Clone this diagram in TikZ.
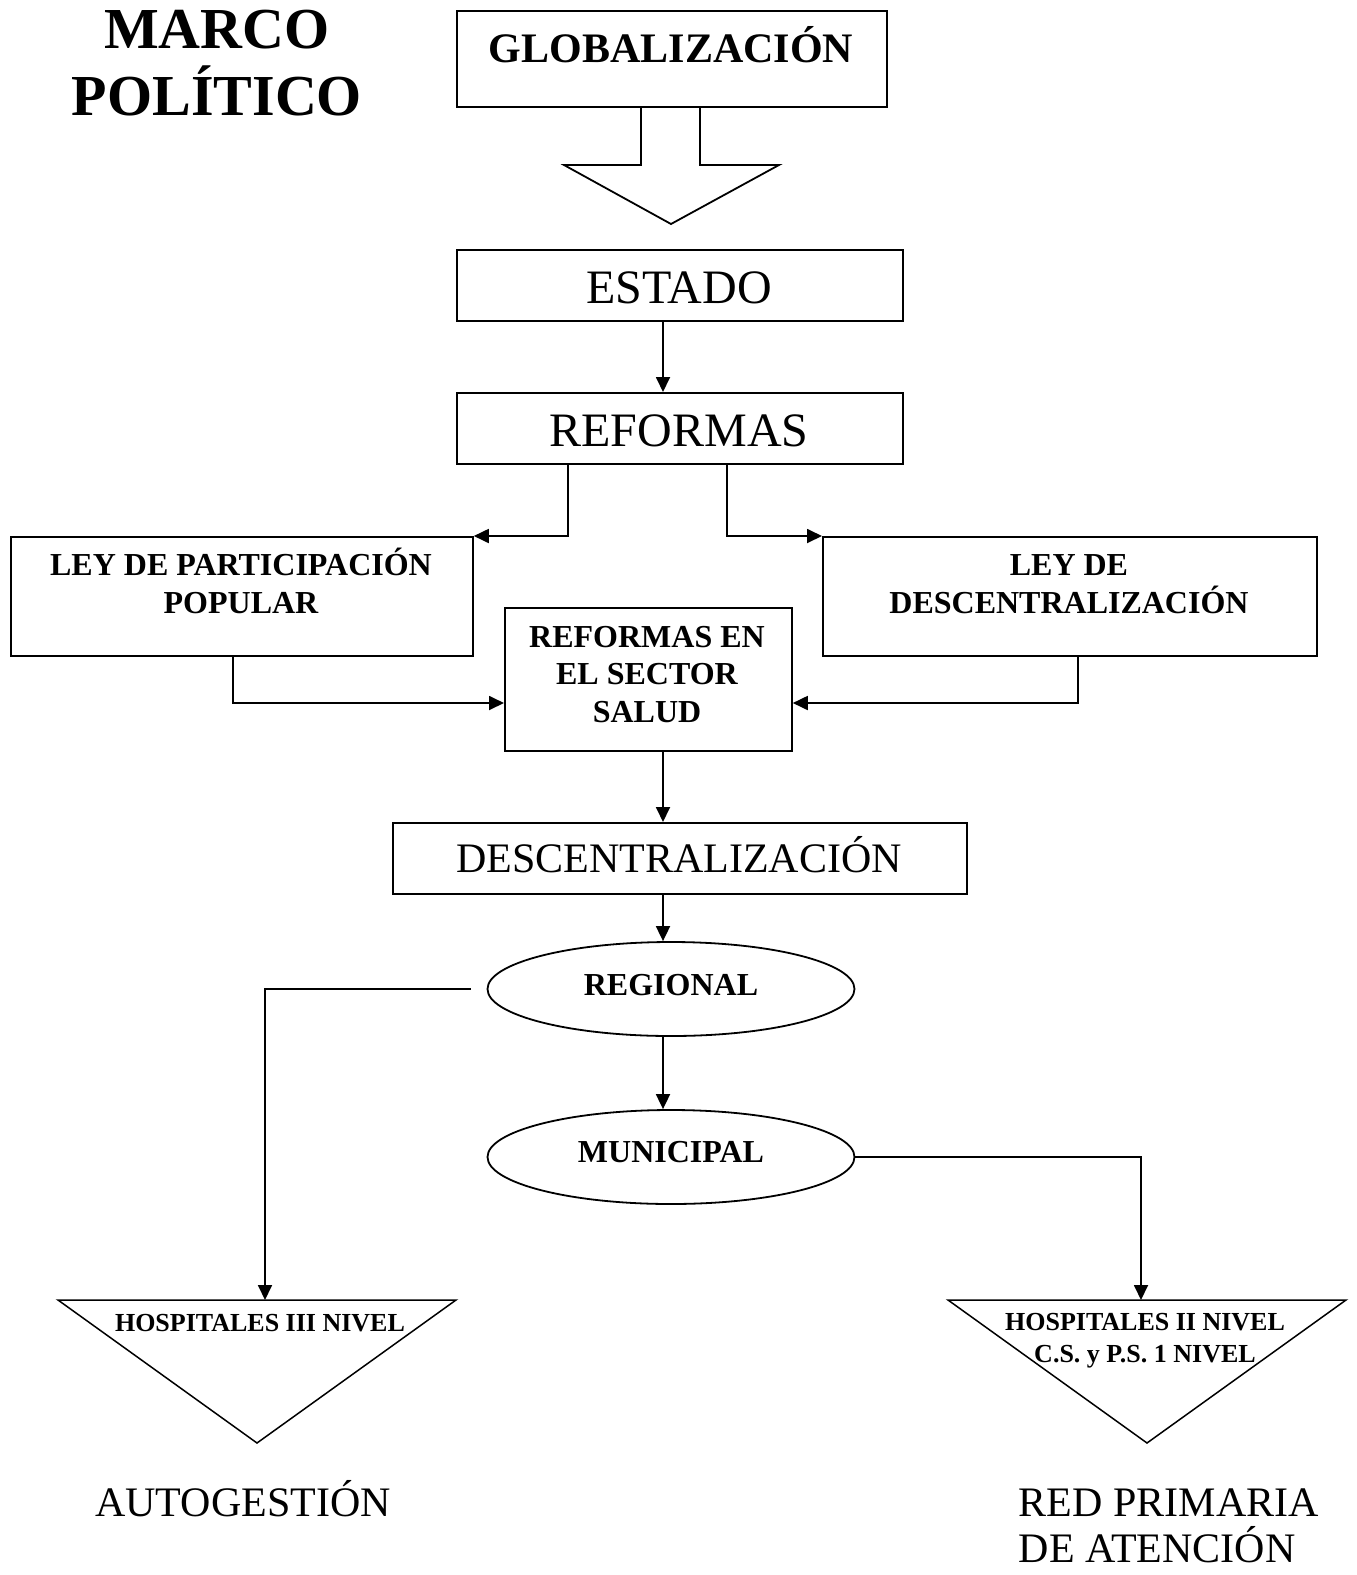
\documentclass[tikz,border=0pt]{standalone}
\usepackage{fontspec}
\setmainfont{Liberation Serif}
\usetikzlibrary{arrows.meta,shapes.geometric}
\begin{document}
\begin{tikzpicture}[x=1pt,y=-1pt,
  line width=1.8pt,
  box/.style={draw,rectangle,inner sep=0pt,anchor=north west},
  oval/.style={draw,ellipse,inner sep=0pt,minimum width=367pt,minimum height=94pt},
  arr/.style={-{Triangle[length=15pt,width=14pt]}},
  txt/.style={anchor=base,inner sep=0pt,align=center},
]
\useasboundingbox[fill=white] (0,0) rectangle (1357,1575);

% title (multi-line nodes sit on the baseline of their last line)
\node[txt,font=\bfseries\fontsize{58}{67}\selectfont] (title) at (217,115) {MARCO\\POLÍTICO};

% block arrow
\node[box,minimum width=430pt,minimum height=96pt] (glob) at (456,10) {};
\node[txt,font=\bfseries\fontsize{42}{49}\selectfont] (globt) at (671,62) {GLOBALIZACIÓN};
\draw (glob.south -| 641,0) -- (641,165) -- (564,165) -- (671,224) -- (779,165) -- (700,165) -- (glob.south -| 700,0);

% main boxes
\node[box,minimum width=446pt,minimum height=71pt] (estado) at (456,249) {};
\node[txt,font=\fontsize{48}{56}\selectfont] at (679,303) {ESTADO};
\node[box,minimum width=446pt,minimum height=71pt] (reformas) at (456,392) {};
\node[txt,font=\fontsize{48}{56}\selectfont] at (679,446) {REFORMAS};

\node[box,minimum width=462pt,minimum height=119pt] (leypp) at (10,536) {};
\node[txt,font=\bfseries\fontsize{32}{38}\selectfont] at (241,613) {LEY DE PARTICIPACIÓN\\POPULAR};
\node[box,minimum width=494pt,minimum height=119pt] (leyd) at (822,536) {};
\node[txt,font=\bfseries\fontsize{32}{38}\selectfont] at (1069,613) {LEY DE\\DESCENTRALIZACIÓN};

\node[box,minimum width=287pt,minimum height=143pt] (salud) at (504,607) {};
\node[txt,font=\bfseries\fontsize{32}{37.5}\selectfont] at (647,722) {REFORMAS EN\\EL SECTOR\\SALUD};

\node[box,minimum width=574pt,minimum height=71pt] (desc) at (392,822) {};
\node[txt,font=\fontsize{42}{49}\selectfont] at (679,872) {DESCENTRALIZACIÓN};

\node[oval] (regional) at (671,989) {};
\node[txt,font=\bfseries\fontsize{32}{38}\selectfont] at (671,995) {REGIONAL};
\node[oval] (municipal) at (671,1157) {};
\node[txt,font=\bfseries\fontsize{32}{38}\selectfont] at (671,1162) {MUNICIPAL};

% triangles
\coordinate (ltop) at (257,1300);
\coordinate (rtop) at (1147,1300);
\draw[line width=1.5pt] (58,1300) -- (456,1300) -- (257,1443) -- cycle;
\draw[line width=1.5pt] (948,1300) -- (1346,1300) -- (1147,1443) -- cycle;
\node[txt,font=\bfseries\fontsize{26}{32}\selectfont] at (260,1331) {HOSPITALES III NIVEL};
\node[txt,font=\bfseries\fontsize{26}{32}\selectfont] at (1145,1362) {HOSPITALES II NIVEL\\C.S. y P.S. 1 NIVEL};

% outcomes
\node[txt,font=\fontsize{42}{46}\selectfont] (auto) at (243,1516) {AUTOGESTIÓN};
\node[anchor=base west,inner sep=0pt,align=left,font=\fontsize{42}{46}\selectfont] (red) at (1018,1562) {RED PRIMARIA\\DE ATENCIÓN};

% connectors
\coordinate (c663) at (663,0);
\coordinate (c568) at (568,0);
\coordinate (c727) at (727,0);
\coordinate (c233) at (233,0);
\coordinate (c1078) at (1078,0);
\coordinate (r703) at (0,703);
\coordinate (c265) at (265,0);
\coordinate (c1141) at (1141,0);

\draw[arr] (estado.south -| c663) -- (reformas.north -| c663);
\draw[arr] (reformas.south -| c568) |- (leypp.north east);
\draw[arr] (reformas.south -| c727) |- (leyd.north west);
\draw[arr] (leypp.south -| c233) |- (salud.west |- r703);
\draw[arr] (leyd.south -| c1078) |- (salud.east |- r703);
\draw[arr] (salud.south -| c663) -- (desc.north -| c663);
\draw[arr] (desc.south -| c663) -- (regional.north -| c663);
\draw[arr] (regional.south -| c663) -- (municipal.north -| c663);
\draw[arr] ([xshift=-16pt]regional.west) -| (ltop -| c265);
\draw[arr] (municipal.east) -| (rtop -| c1141);
\end{tikzpicture}
\end{document}
